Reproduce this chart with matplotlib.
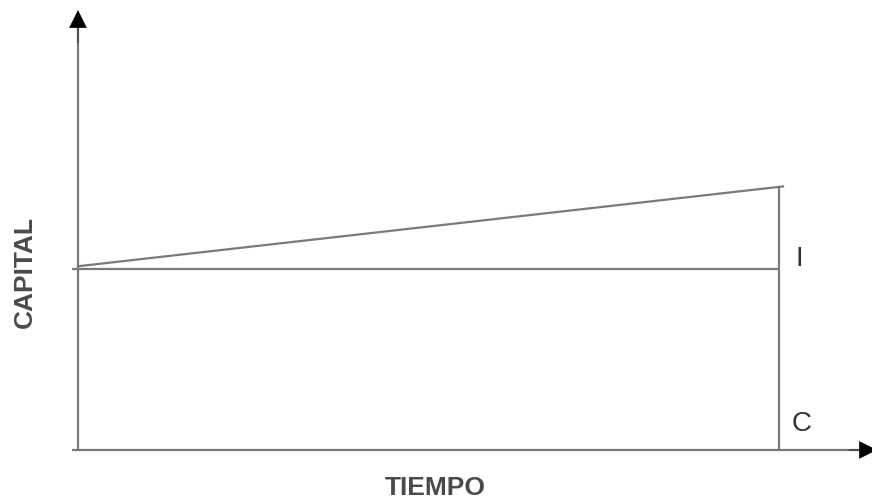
import matplotlib
matplotlib.use("Agg")
import matplotlib.pyplot as plt

# Data (abstract units)
tiempo = [0, 10]            # start and end of period
capital = [100, 100]        # C (principal, constant)
monto = [100, 145]          # C + I (grows linearly)
labels = ["I", "C"]
x_label = "TIEMPO"
y_label = "CAPITAL"

plt.rcParams['font.family'] = ['Liberation Sans', 'DejaVu Sans']

fig = plt.figure(figsize=(8.72, 5.01), dpi=100)
ax = fig.add_axes([0, 0, 1, 1])
ax.set_xlim(-1.113, 11.33)
ax.set_ylim(-28.2, 248.6)
ax.axis('off')

gray = '#7a7a7a'
lw = 1.6
head = '-|>,head_length=0.6,head_width=0.3'

# axes lines
ax.plot([-0.09, 11.2], [0, 0], color=gray, lw=lw, solid_capstyle='butt')
ax.plot([0, 0], [-0.5, 236], color=gray, lw=lw, solid_capstyle='butt')
# arrow heads
ax.annotate('', xy=(11.40, 0), xytext=(11.0, 0), annotation_clip=False,
            arrowprops=dict(arrowstyle=head, color='black', lw=0.5,
                            mutation_scale=20, shrinkA=0, shrinkB=0))
ax.annotate('', xy=(0, 243.0), xytext=(0, 225), annotation_clip=False,
            arrowprops=dict(arrowstyle=head, color='black', lw=0.5,
                            mutation_scale=20, shrinkA=0, shrinkB=0))

# capital line and growing line
ax.plot([tiempo[0] - 0.08, tiempo[1]], capital, color=gray, lw=lw, solid_capstyle='butt')
ax.plot([tiempo[0], tiempo[1] + 0.06], [monto[0] + 1.5, monto[1] + 0.6], color=gray, lw=lw)
# vertical at end
ax.plot([tiempo[1], tiempo[1]], [0, monto[1]], color=gray, lw=lw)

# labels
ax.text(tiempo[1] + 0.24, 105.5, labels[0], fontsize=20, color='#333333',
        ha='left', va='center')
ax.text(tiempo[1] + 0.19, 14.6, labels[1], fontsize=20, color='#333333',
        ha='left', va='center')

ax.text(5.10, -21.0, x_label, fontsize=19, fontweight='bold', color='#4a4a4a',
        ha='center', va='center')
ax.text(-0.756, 98.3, y_label, fontsize=19, fontweight='bold', color='#4a4a4a',
        ha='center', va='center', rotation=90)

fig.savefig('out.png', dpi=100)
